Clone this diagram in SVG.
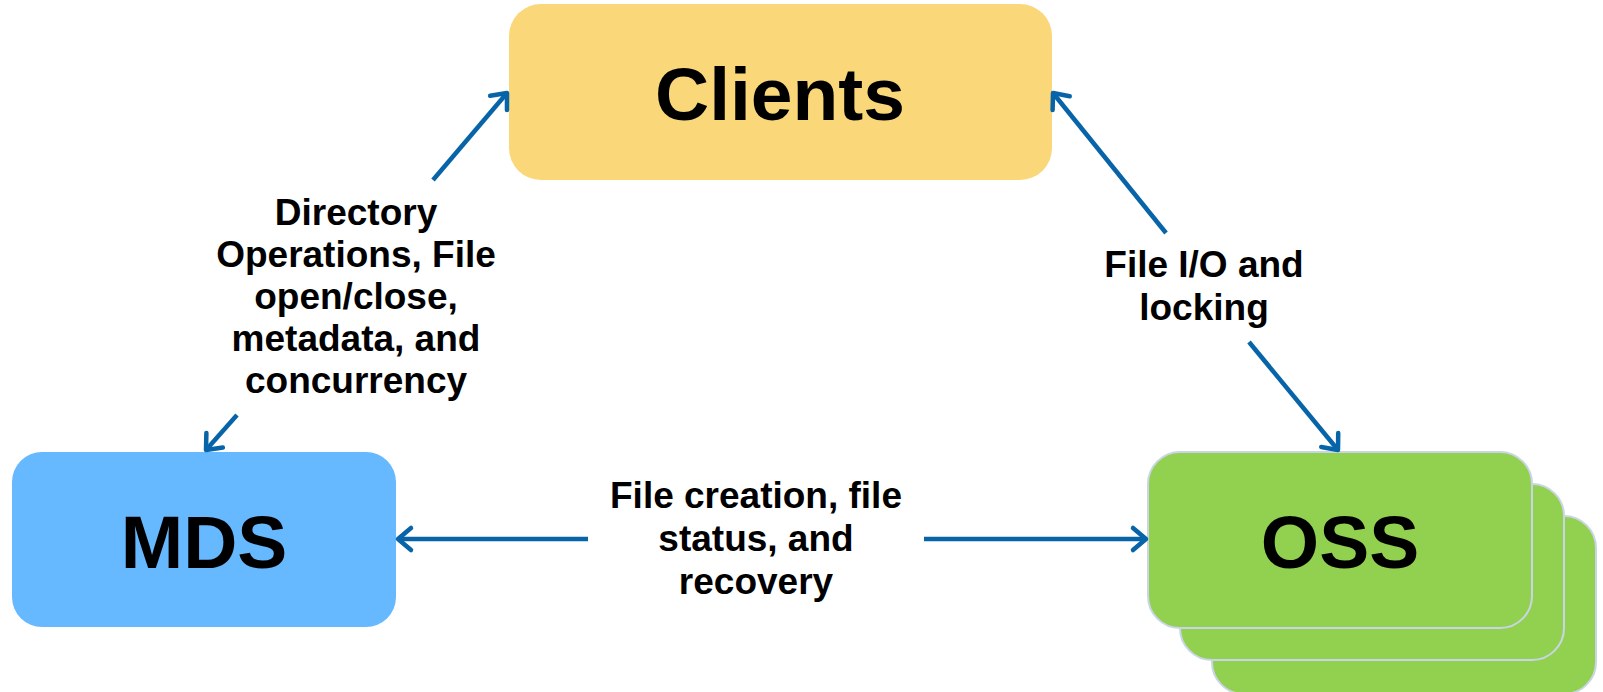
<svg xmlns="http://www.w3.org/2000/svg" width="1603" height="692" viewBox="0 0 1603 692">
<style>
.big{font-family:"Liberation Sans",Arial,sans-serif;font-weight:bold;font-size:75px;fill:#000;text-anchor:middle}
.lbl{font-family:"Liberation Sans",Arial,sans-serif;font-weight:bold;font-size:37px;fill:#000;text-anchor:middle}
.conn{stroke:#0864a8;stroke-width:4.5;fill:none;marker-end:url(#chev)}
.oss{fill:#92d050;stroke:#c9d5e6;stroke-width:2}
</style>
<defs>
<marker id="chev" markerUnits="userSpaceOnUse" markerWidth="40" markerHeight="40" viewBox="-20 -20 40 40" refX="0" refY="0" orient="auto" overflow="visible">
<path d="M-13,-11 L0,0 L-13,11" fill="none" stroke="#0864a8" stroke-width="4.5" stroke-linecap="round" stroke-linejoin="round"/>
</marker>
</defs>
<rect width="1603" height="692" fill="#fff"/>
<g id="clients">
<rect x="509" y="4" width="543" height="176" rx="32" fill="#fad778"/>
<text class="big" x="780" y="120">Clients</text>
</g>
<g id="mds">
<rect x="12" y="452" width="384" height="175" rx="30" fill="#66b8ff"/>
<text class="big" x="204" y="568">MDS</text>
</g>
<g id="oss">
<rect class="oss" x="1212" y="516" width="384" height="178" rx="32"/>
<rect class="oss" x="1180" y="484" width="384" height="176" rx="32"/>
<rect class="oss" x="1148" y="452" width="384" height="176" rx="32"/>
<text class="big" x="1340" y="568">OSS</text>
</g>
<g id="connectors">
<line class="conn" x1="433" y1="180" x2="507" y2="93"/>
<line class="conn" x1="237" y1="415" x2="206" y2="450"/>
<line class="conn" x1="1166" y1="233" x2="1053" y2="93"/>
<line class="conn" x1="1249" y1="342" x2="1338" y2="450"/>
<line class="conn" x1="588" y1="539" x2="398" y2="539"/>
<line class="conn" x1="924" y1="539" x2="1146" y2="539"/>
</g>
<g id="labels">
<text class="lbl" x="356" y="225">Directory</text>
<text class="lbl" x="356" y="267">Operations, File</text>
<text class="lbl" x="356" y="309">open/close,</text>
<text class="lbl" x="356" y="351">metadata, and</text>
<text class="lbl" x="356" y="393">concurrency</text>
<text class="lbl" x="1204" y="277">File I/O and</text>
<text class="lbl" x="1204" y="320">locking</text>
<text class="lbl" x="756" y="508">File creation, file</text>
<text class="lbl" x="756" y="551">status, and</text>
<text class="lbl" x="756" y="594">recovery</text>
</g>
</svg>
